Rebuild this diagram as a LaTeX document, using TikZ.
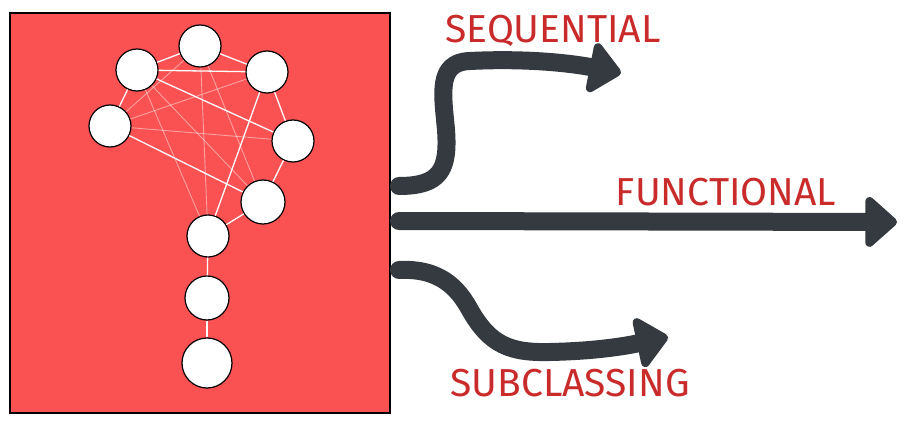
\documentclass[tikz,border=0pt]{standalone}
\usepackage{fontspec}
\newfontfamily\handfont{Fira Sans}
\usetikzlibrary{arrows.meta}
\definecolor{boxred}{HTML}{FA5252}
\definecolor{inkgray}{HTML}{343A40}
\definecolor{labelred}{HTML}{C92A2A}
\tikzset{
  ball/.style={circle, draw=black, line width=1.2pt, fill=white, minimum size=42pt, inner sep=0pt},
  link/.style={white, line width=1.3pt},
  faint/.style={white, opacity=0.45, line width=0.9pt},
  fatarrow/.style={inkgray, line width=18pt, line cap=round, line join=round,
    -{Triangle[round, length=34pt, width=58pt]}},
  tag/.style={text=labelred, font=\handfont\fontsize{39}{39}\selectfont}
}
\begin{document}
\begin{tikzpicture}[x=1pt,y=-1pt]
    \useasboundingbox (0,0) rectangle (903,422);
    \node[draw=black, line width=1.3pt, fill=boxred, minimum width=380pt, minimum height=400pt] (box) at (200,213) {};
    % graph inside the box
    \node[ball] (n1) at (200,46) {};
    \node[ball] (n2) at (137,70) {};
    \node[ball] (n3) at (267,72) {};
    \node[ball] (n4) at (110,126) {};
    \node[ball] (n5) at (293,141) {};
    \node[ball, minimum size=44pt] (n6) at (263,202) {};
    \node[ball] (n7) at (208,236) {};
    \node[ball, minimum size=44pt] (n8) at (207,298) {};
    \node[ball, minimum size=50pt] (n9) at (207,363) {};
    \draw[link] (n1) -- (n2);
    \draw[link] (n1) -- (n3);
    \draw[link] (n2) -- (n3);
    \draw[link] (n2) -- (n4);
    \draw[link] (n3) -- (n5);
    \draw[link] (n5) -- (n6);
    \draw[link] (n6) -- (n7);
    \draw[link] (n7) -- (n8);
    \draw[link] (n8) -- (n9);
    \draw[link] (n2) -- (n5);
    \draw[link] (n4) -- (n6);
    \draw[link] (n3) -- (n7);
    \draw[faint] (n1) -- (n4);
    \draw[faint] (n3) -- (n4);
    \draw[faint] (n4) -- (n5);
    \draw[faint] (n1) -- (n7);
    \draw[faint] (n1) -- (n6);
    \draw[faint] (n2) -- (n7);
    \draw[faint] (n2) -- (n6);
    % arrows out of the box
    \coordinate (seqA) at (399,186);
    \coordinate (seqB) at (621,73);
    \coordinate (funA) at (399,221);
    \coordinate (funB) at (897,222);
    \coordinate (subA) at (399,270);
    \coordinate (subB) at (668,337);
    \draw[fatarrow] (seqA) .. controls (440,186) and (449,170) .. (446,130)
        .. controls (443,95) and (436,62) .. (470,61)
        .. controls (530,58) and (575,64) .. (seqB);
    \draw[fatarrow] (funA) -- (funB);
    \draw[fatarrow] (subA) .. controls (440,268) and (458,288) .. (470,310)
        .. controls (490,345) and (510,353) .. (550,352)
        .. controls (600,351) and (630,345) .. (subB);
    \node[tag] (seq) at (553,31) {SEQUENTIAL};
    \node[tag] (fun) at (726,192) {FUNCTIONAL};
    \node[tag] (sub) at (570,383) {SUBCLASSING};
\end{tikzpicture}
\end{document}
